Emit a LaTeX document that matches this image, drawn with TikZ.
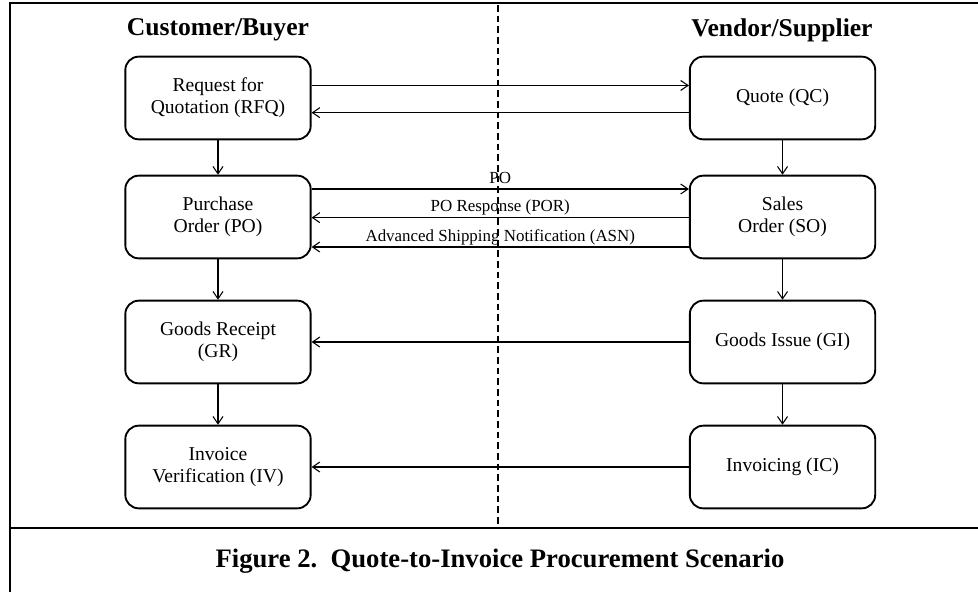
\documentclass[tikz,border=0pt]{standalone}
\usepackage{fontspec}
\setmainfont{Liberation Serif}
\usetikzlibrary{positioning,arrows.meta}

\begin{document}
\begin{tikzpicture}[x=0.75pt,y=-0.75pt,>={Straight Barb[length=5.5pt,width=7.5pt]},
  node distance=93.75pt,on grid,
  stage/.style={draw,line width=1.4pt,rounded corners=10pt,minimum width=139pt,minimum height=62pt,align=center,font=\fontsize{14.7}{16.5}\selectfont},
  head/.style={font=\fontsize{19.2}{21}\selectfont\bfseries},
  flow/.style={->,line width=0.8pt},
  lbl/.style={font=\fontsize{12.7}{14}\selectfont,above,inner sep=1pt,text depth=3pt},
  frame/.style={line width=2.2pt}]
  \useasboundingbox (0,0) rectangle (978,592);

  % frame and caption
  \draw[frame] (10,595) -- (10,3) -- (981,3);
  \draw[frame] (10,528) -- (981,528);
  \node[font=\fontsize{20}{23}\selectfont\bfseries] (cap) at (500,561) {Figure 2.\ \ Quote-to-Invoice Procurement Scenario};

  % divider
  \draw[dashed,line width=0.9pt,dash pattern=on 5pt off 3pt] (498,5) -- (498,527);

  % buyer side
  \node[head] (buyer) at (218,30) {Customer/Buyer};
  \node[stage] (rfq) at (218,98) {Request for\\Quotation (RFQ)};
  \node[stage] (po)  [below=89.25pt of rfq] {Purchase\\Order (PO)};
  \node[stage] (gr)  [below=of po] {Goods Receipt\\(GR)};
  \node[stage] (iv)  [below=of gr] {Invoice\\Verification (IV)};

  % supplier side
  \node[head] (vendor) at (782,30) {Vendor/Supplier};
  \node[stage] (qc)  [right=423.4pt of rfq] {Quote (QC)};
  \node[stage] (so)  [right=423.4pt of po] {Sales\\Order (SO)};
  \node[stage] (gi)  [right=423.4pt of gr] {Goods Issue (GI)};
  \node[stage] (ic)  [right=423.4pt of iv] {Invoicing (IC)};

  % vertical flows
  \draw[flow] (rfq) -- (po);
  \draw[flow] (po) -- (gr);
  \draw[flow] (gr) -- (iv);
  \draw[flow] (qc) -- (so);
  \draw[flow] (so) -- (gi);
  \draw[flow] (gi) -- (ic);

  % messages
  \draw[flow] ([yshift=9.4pt]rfq.east) -- ([yshift=9.4pt]qc.west);
  \draw[flow] ([yshift=-11pt]qc.west) -- ([yshift=-11pt]rfq.east);
  \draw[flow] ([yshift=21pt]po.east) -- node[lbl] {PO} ([yshift=21pt]so.west);
  \draw[flow] ([yshift=-0.5pt]so.west) -- node[lbl] {PO Response (POR)} ([yshift=-0.5pt]po.east);
  \draw[flow] ([yshift=-22.5pt]so.west) -- node[lbl] {Advanced Shipping Notification (ASN)} ([yshift=-22.5pt]po.east);
  \draw[flow] (gi) -- (gr);
  \draw[flow] (ic) -- (iv);
\end{tikzpicture}
\end{document}
